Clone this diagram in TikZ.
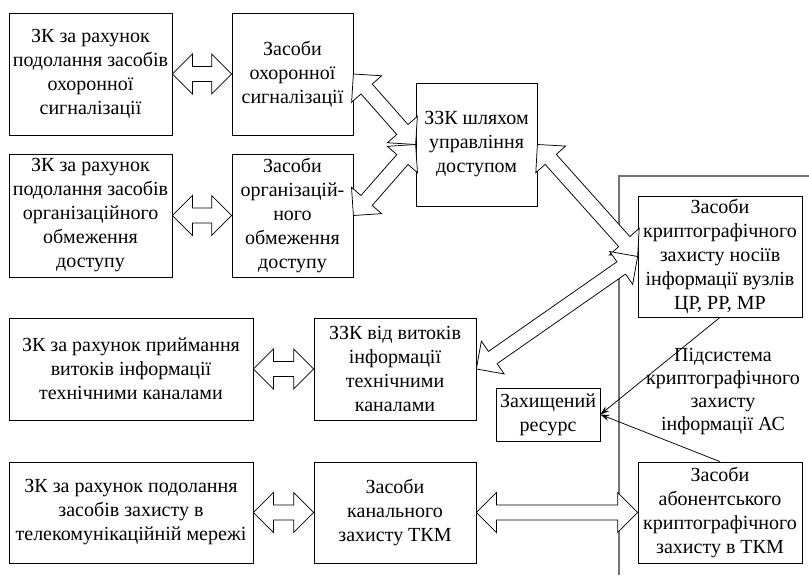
\documentclass[tikz,border=0pt]{standalone}
\usepackage{fontspec}
\setmainfont{Liberation Serif}
\usetikzlibrary{calc,arrows.meta}
\newcommand{\dblarrow}[2]{%
  \path ($(#1)!20pt!(#2)$) coordinate (da) ($(#2)!20pt!(#1)$) coordinate (db);
  \draw[bigarrow] (#1) -- ($(da)!20pt!90:(#2)$) -- ($(da)!7.5pt!90:(#2)$)
    -- ($(db)!7.5pt!-90:(#1)$) -- ($(db)!20pt!-90:(#1)$) -- (#2)
    -- ($(db)!20pt!90:(#1)$) -- ($(db)!7.5pt!90:(#1)$)
    -- ($(da)!7.5pt!-90:(#2)$) -- ($(da)!20pt!-90:(#2)$) -- cycle;
}
\tikzset{
  box/.style={draw=black, line width=0.75pt, align=center, inner sep=0pt,
    font=\fontsize{20}{24}\selectfont},
  bigarrow/.style={draw=black, line width=0.75pt, fill=white, line join=miter},
  framec/.style={draw=black!55, line width=1.2pt},
  thinarrow/.style={draw=black, line width=0.75pt, -{Stealth[length=9pt,width=6pt]}},
  lbl/.style={align=center, inner sep=0pt, font=\fontsize{20}{23}\selectfont}
}
\begin{document}
\begin{tikzpicture}[x=1pt,y=-1pt]
\useasboundingbox (0,0) rectangle (809,583);
% subsystem frame
\coordinate (fr1) at (809,176);
\coordinate (fr2) at (619,176);
\coordinate (fr3) at (619,575);
\draw[framec] (fr1) -- (fr2) -- (fr3);
% boxes
\node[box, minimum width=163pt, minimum height=122pt] (A1) at (90.5,74)
  {ЗК за рахунок\\подолання засобів\\охоронної\\сигналізації};
\node[box, minimum width=121pt, minimum height=122pt] (B1) at (292.5,74)
  {Засоби\\охоронної\\сигналізації};
\node[box, minimum width=163pt, minimum height=123pt] (A2) at (90.5,215.5)
  {ЗК за рахунок\\подолання засобів\\організаційного\\обмеження\\доступу};
\node[box, minimum width=121pt, minimum height=123pt] (B2) at (292.5,215.5)
  {Засоби\\організацій-\\ного\\обмеження\\доступу};
\node[box, minimum width=121pt, minimum height=123pt] (C) at (476.5,144.5)
  {ЗЗК шляхом\\управління\\доступом};
\node[box, minimum width=164pt, minimum height=121pt] (D) at (720,256.5)
  {Засоби\\криптографічного\\захисту носіїв\\інформації вузлів\\ЦР, РР, МР};
\node[box, minimum width=244pt, minimum height=102pt] (E) at (131,369)
  {ЗК за рахунок приймання\\витоків інформації\\технічними каналами};
\node[box, minimum width=162pt, minimum height=102pt] (F) at (395,369)
  {ЗЗК від витоків\\інформації\\технічними\\каналами};
\node[box, minimum width=104pt, minimum height=53pt] (G) at (548,414.5)
  {Захищений\\ресурс};
\node[box, minimum width=244pt, minimum height=101pt] (H) at (131,512.5)
  {ЗК за рахунок подолання\\засобів захисту в\\телекомунікаційній мережі};
\node[box, minimum width=162pt, minimum height=101pt] (I) at (395,512.5)
  {Засоби\\канального\\захисту ТКМ};
\node[box, minimum width=164pt, minimum height=101pt] (J) at (720,512.5)
  {Засоби\\абонентського\\криптографічного\\захисту в ТКМ};
\node[lbl] (S) at (723,392)
  {Підсистема\\криптографічного\\захисту\\інформації АС};
% big double arrows
\dblarrow{A1.east}{B1.west}
\dblarrow{A2.east}{B2.west}
\dblarrow{B1.east}{C.west}
\dblarrow{C.west}{B2.east}
\dblarrow{C.east}{D.west}
\dblarrow{D.west}{F.east}
\dblarrow{E.east}{F.west}
\dblarrow{H.east}{I.west}
\dblarrow{I.east}{J.west}
% thin arrows
\draw[thinarrow] (D.south) -- (G.east);
\draw[thinarrow] (J.north) -- (G.east);
\end{tikzpicture}
\end{document}
